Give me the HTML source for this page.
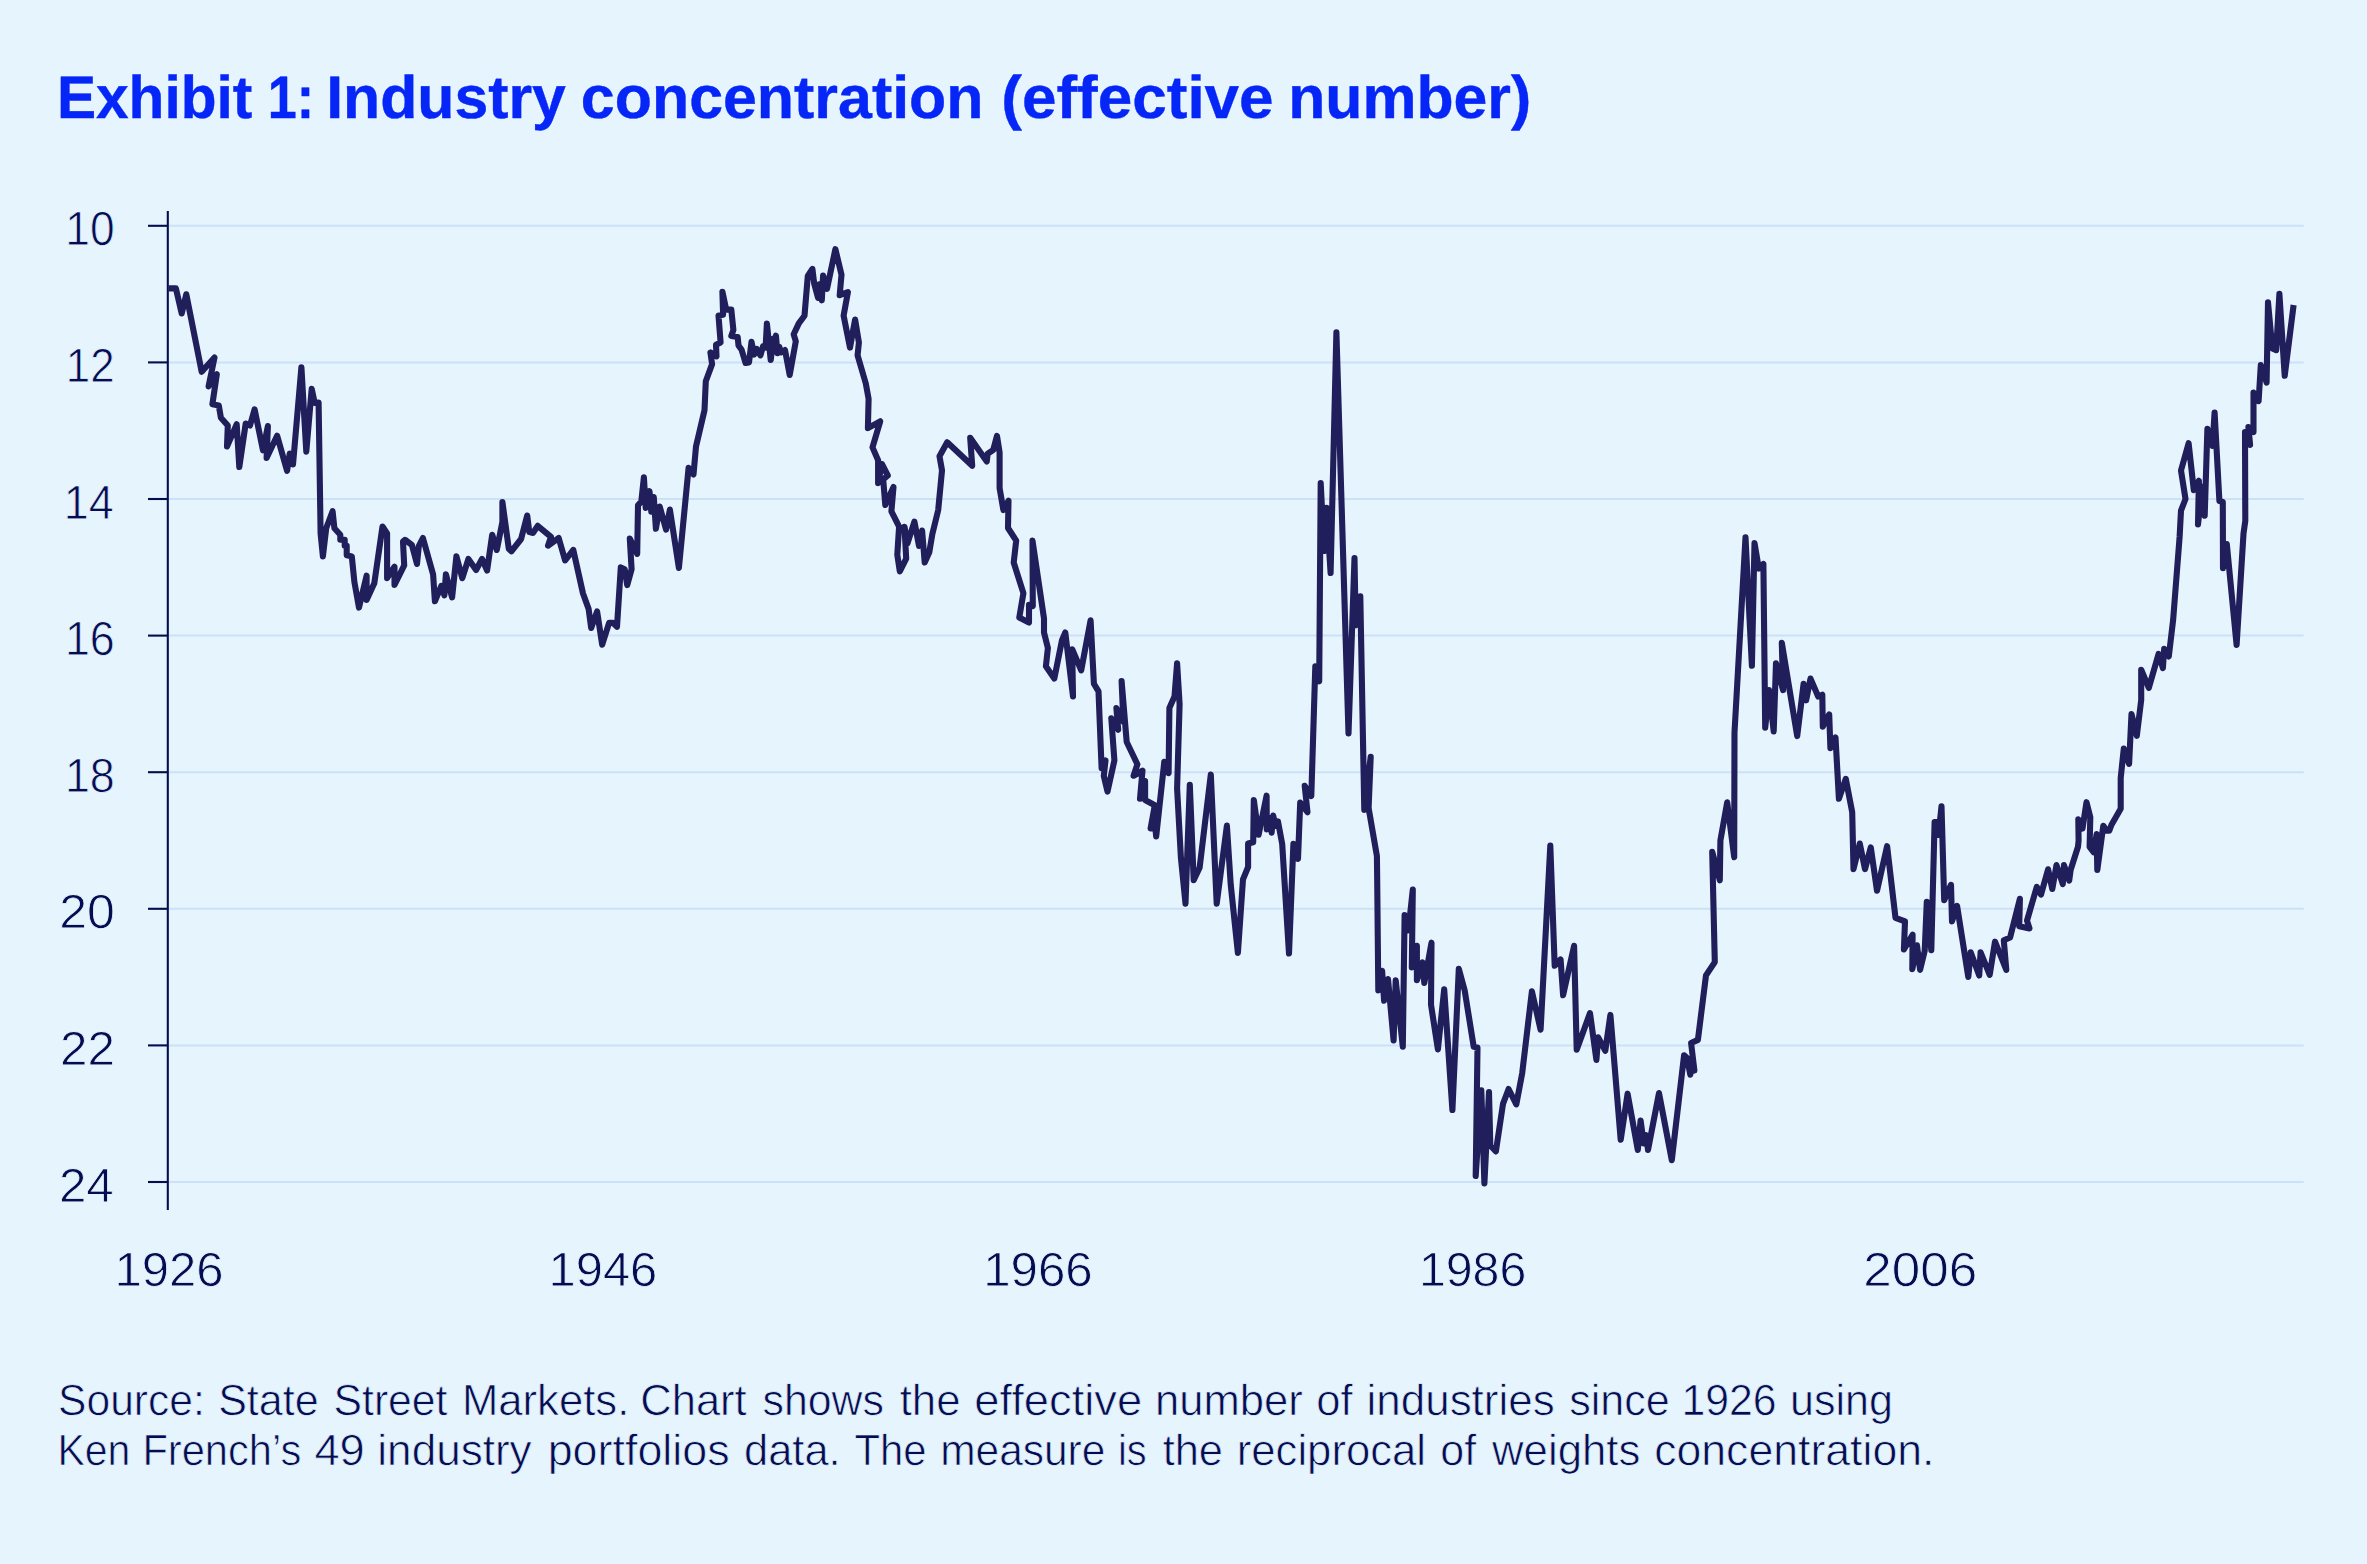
<!DOCTYPE html>
<html><head><meta charset="utf-8"><title>Exhibit 1: Industry concentration (effective number)</title>
<style>
html,body{margin:0;padding:0;background:#e6f4fd;}
body{width:2367px;height:1564px;overflow:hidden;}
svg{display:block;}
text{font-family:"Liberation Sans",sans-serif;text-rendering:geometricPrecision;}
.t{font-weight:bold;font-size:60.0px;fill:#0526f7;stroke:#0526f7;stroke-width:0.4px;stroke-linejoin:round;}
.a{font-size:48.0px;fill:#040c52;stroke:#e6f4fd;stroke-width:0.8px;}
.s{font-size:43.6px;fill:#040c52;stroke:#e6f4fd;stroke-width:0.7px;}
</style></head><body>
<svg width="2367" height="1564" viewBox="0 0 2367 1564">
<rect width="2367" height="1564" fill="#e6f4fd"/>
<g id="title">
<text class="t" transform="translate(56.89,117.70) scale(0.9774,1)">Exhibit</text>
<text class="t" transform="translate(267.79,117.70) scale(0.8684,1)">1:</text>
<text class="t" transform="translate(326.25,117.70) scale(1.0123,1)">Industry</text>
<text class="t" transform="translate(580.87,117.70) scale(1.0149,1)">concentration</text>
<text class="t" transform="translate(1001.23,117.70) scale(1.0340,1)">(effective</text>
<text class="t" transform="translate(1288.16,117.70) scale(1.0127,1)">number)</text>
</g>
<g id="grid" stroke="#cbe1f8" stroke-width="2">
<line x1="168" x2="2303.7" y1="225.8" y2="225.8"/>
<line x1="168" x2="2303.7" y1="362.4" y2="362.4"/>
<line x1="168" x2="2303.7" y1="499.0" y2="499.0"/>
<line x1="168" x2="2303.7" y1="635.6" y2="635.6"/>
<line x1="168" x2="2303.7" y1="772.2" y2="772.2"/>
<line x1="168" x2="2303.7" y1="908.8" y2="908.8"/>
<line x1="168" x2="2303.7" y1="1045.4" y2="1045.4"/>
<line x1="168" x2="2303.7" y1="1182.0" y2="1182.0"/>
</g>
<g id="axis" stroke="#050d4e" stroke-width="2.1">
<line x1="167.8" x2="167.8" y1="211" y2="1210"/>
<line x1="148" x2="168" y1="225.8" y2="225.8"/>
<line x1="148" x2="168" y1="362.4" y2="362.4"/>
<line x1="148" x2="168" y1="499.0" y2="499.0"/>
<line x1="148" x2="168" y1="635.6" y2="635.6"/>
<line x1="148" x2="168" y1="772.2" y2="772.2"/>
<line x1="148" x2="168" y1="908.8" y2="908.8"/>
<line x1="148" x2="168" y1="1045.4" y2="1045.4"/>
<line x1="148" x2="168" y1="1182.0" y2="1182.0"/>
</g>
<g id="ylabels">
<text class="a" transform="translate(65.33,245.40) scale(0.9241,1)">10</text>
<text class="a" transform="translate(65.86,382.00) scale(0.9138,1)">12</text>
<text class="a" transform="translate(63.79,518.60) scale(0.9357,1)">14</text>
<text class="a" transform="translate(64.90,655.20) scale(0.9323,1)">16</text>
<text class="a" transform="translate(64.90,791.80) scale(0.9323,1)">18</text>
<text class="a" transform="translate(59.22,928.40) scale(1.0424,1)">20</text>
<text class="a" transform="translate(59.94,1065.00) scale(1.0283,1)">22</text>
<text class="a" transform="translate(58.94,1201.60) scale(1.0277,1)">24</text>
</g>
<g id="xlabels">
<text class="a" transform="translate(114.53,1286.40) scale(1.0217,1)">1926</text>
<text class="a" transform="translate(548.55,1286.40) scale(1.0178,1)">1946</text>
<text class="a" transform="translate(983.22,1286.40) scale(1.0256,1)">1966</text>
<text class="a" transform="translate(1418.88,1286.40) scale(1.0060,1)">1986</text>
<text class="a" transform="translate(1863.37,1286.40) scale(1.0651,1)">2006</text>
</g>
<g id="source">
<text class="s" transform="translate(58.07,1415.15) scale(0.9766,1)">Source:</text>
<text class="s" transform="translate(218.16,1415.15) scale(0.9875,1)">State</text>
<text class="s" transform="translate(333.57,1415.15) scale(0.9792,1)">Street</text>
<text class="s" transform="translate(461.95,1415.15) scale(1.0011,1)">Markets.</text>
<text class="s" transform="translate(640.36,1415.15) scale(0.9972,1)">Chart</text>
<text class="s" transform="translate(762.57,1415.15) scale(0.9822,1)">shows</text>
<text class="s" transform="translate(899.65,1415.15) scale(1.0041,1)">the</text>
<text class="s" transform="translate(974.31,1415.15) scale(1.0388,1)">effective</text>
<text class="s" transform="translate(1155.05,1415.15) scale(1.0000,1)">number</text>
<text class="s" transform="translate(1316.35,1415.15) scale(0.9988,1)">of</text>
<text class="s" transform="translate(1366.53,1415.15) scale(1.0083,1)">industries</text>
<text class="s" transform="translate(1569.16,1415.15) scale(0.9887,1)">since</text>
<text class="s" transform="translate(1681.41,1415.15) scale(0.9813,1)">1926</text>
<text class="s" transform="translate(1790.08,1415.15) scale(0.9873,1)">using</text>
<text class="s" transform="translate(57.43,1465.35) scale(0.9402,1)">Ken</text>
<text class="s" transform="translate(142.38,1465.35) scale(0.9553,1)">French’s</text>
<text class="s" transform="translate(314.41,1465.35) scale(1.0380,1)">49</text>
<text class="s" transform="translate(377.33,1465.35) scale(1.0110,1)">industry</text>
<text class="s" transform="translate(547.69,1465.35) scale(1.0282,1)">portfolios</text>
<text class="s" transform="translate(743.95,1465.35) scale(0.9974,1)">data.</text>
<text class="s" transform="translate(854.55,1465.35) scale(0.9597,1)">The</text>
<text class="s" transform="translate(940.20,1465.35) scale(0.9732,1)">measure</text>
<text class="s" transform="translate(1118.03,1465.35) scale(0.9099,1)">is</text>
<text class="s" transform="translate(1162.65,1465.35) scale(0.9957,1)">the</text>
<text class="s" transform="translate(1236.75,1465.35) scale(1.0017,1)">reciprocal</text>
<text class="s" transform="translate(1440.27,1465.35) scale(0.9850,1)">of</text>
<text class="s" transform="translate(1492.05,1465.35) scale(1.0026,1)">weights</text>
<text class="s" transform="translate(1654.13,1465.35) scale(1.0236,1)">concentration.</text>
</g>
<polyline id="ln" fill="none" stroke="#201f5b" stroke-width="6.1" stroke-linejoin="round" stroke-linecap="butt" points="168.4,288.4 175.9,288.4 181.7,313.5 186.3,294.3 201.7,371.8 214.5,357.5 208.6,386.4 216.8,374.3 212.4,404.3 218.8,405.5 220.9,417.8 227.8,425.5 227.0,446.5 236.7,424.2 239.3,467.0 245.7,423.5 250.0,425.5 254.6,409.4 263.0,450.3 267.9,426.0 266.6,458.0 277.1,435.7 287.1,470.8 289.7,453.6 293.0,464.4 301.4,367.2 306.3,451.6 311.7,388.9 314.7,403.0 318.6,402.5 320.6,533.4 322.9,556.4 326.2,528.3 332.6,511.2 334.4,528.3 340.3,534.7 340.3,539.8 344.7,539.8 344.7,545.7 346.7,545.7 346.7,555.2 351.8,556.4 354.4,582.0 359.0,607.6 366.6,575.6 366.6,600.0 374.3,583.3 382.5,526.5 387.1,533.4 387.1,578.2 394.5,566.7 394.5,585.0 404.2,565.4 403.0,541.6 405.0,539.8 411.9,545.0 417.0,564.0 418.8,546.2 422.9,538.0 433.1,574.3 434.9,601.2 441.3,585.9 444.4,595.3 445.9,574.3 452.1,597.4 456.4,556.4 462.3,578.2 468.4,559.0 476.1,570.0 482.0,559.0 487.1,570.5 492.2,534.7 496.8,550.0 502.4,521.9 502.4,502.0 508.8,548.8 511.4,551.3 521.1,539.0 527.2,515.5 529.3,532.1 533.1,532.9 537.7,525.8 551.0,536.8 548.0,545.7 558.7,538.0 565.1,560.3 573.3,550.0 583.0,593.5 588.6,608.9 591.2,628.0 597.1,611.4 602.2,644.7 609.1,622.9 612.9,622.9 617.0,626.8 620.8,567.4 624.7,569.2 627.2,585.1 631.6,569.2 629.8,538.5 637.2,553.9 638.0,505.3 641.3,501.5 643.9,477.2 645.7,507.9 649.5,491.2 651.3,511.7 653.8,497.1 655.9,528.8 659.7,506.6 666.1,529.6 669.9,509.6 678.9,568.0 688.6,467.7 693.5,474.6 696.0,446.5 704.5,410.2 705.8,381.3 712.1,364.1 710.4,352.4 716.5,356.4 716.0,344.7 720.6,342.4 718.5,315.5 723.1,314.8 722.4,291.7 726.2,309.6 731.3,309.6 733.4,330.1 731.3,336.0 737.7,337.0 738.5,345.4 741.6,349.8 745.6,363.0 749.0,362.5 751.5,341.8 754.1,354.6 756.6,348.9 760.5,355.3 763.0,346.4 765.6,347.6 766.9,323.5 770.7,360.0 773.4,338.5 774.6,341.0 775.9,335.6 777.5,353.3 779.4,347.0 781.0,352.5 785.0,350.0 789.7,375.0 795.8,341.3 793.7,334.3 798.8,323.4 804.5,315.7 807.8,276.0 812.4,268.9 814.2,283.7 818.0,297.8 819.3,284.2 821.8,300.3 823.1,275.5 827.0,288.8 835.4,249.2 841.5,274.8 839.7,295.2 847.9,292.1 843.6,315.7 850.0,347.6 855.1,319.5 858.9,342.5 857.6,355.3 865.8,383.5 868.6,398.8 867.9,428.2 880.2,421.3 872.5,447.4 878.1,460.2 878.1,483.2 881.9,464.0 887.8,475.5 883.2,479.4 885.3,504.9 893.5,487.0 891.4,511.3 899.1,526.7 897.3,554.8 899.8,571.4 906.2,558.6 904.5,526.7 907.5,543.3 914.4,521.6 919.0,545.9 922.1,530.5 924.7,562.5 929.3,552.2 932.3,534.3 938.2,510.1 942.0,470.4 939.5,456.3 947.2,442.3 972.2,465.8 970.2,437.7 986.8,461.5 987.6,453.8 993.2,450.0 997.0,435.9 999.6,452.5 999.6,488.3 1003.4,510.1 1008.5,500.6 1008.0,528.0 1016.2,540.7 1013.7,562.5 1023.4,593.2 1019.3,617.5 1029.0,622.6 1029.0,604.7 1032.8,606.0 1032.5,540.6 1044.0,618.5 1044.0,632.5 1047.9,647.9 1045.9,666.3 1054.3,678.6 1062.0,640.2 1065.3,632.5 1073.0,696.5 1072.2,649.2 1081.2,670.4 1090.6,620.3 1093.9,683.7 1098.5,691.4 1101.6,768.1 1105.5,760.4 1103.8,776.0 1107.5,791.6 1114.4,760.4 1111.3,718.2 1118.2,729.7 1116.4,708.0 1123.4,722.0 1121.6,681.1 1126.7,742.0 1137.4,764.2 1133.6,775.8 1142.5,770.6 1140.0,798.8 1145.1,780.9 1145.1,800.0 1154.8,805.2 1150.6,828.5 1153.6,813.0 1156.2,836.5 1164.3,761.7 1168.6,773.2 1169.4,708.0 1174.5,696.5 1177.1,663.2 1179.6,704.1 1177.1,788.5 1180.9,857.6 1185.5,903.6 1189.8,784.7 1193.7,880.1 1199.6,867.8 1210.8,774.5 1216.7,903.6 1226.9,825.6 1230.7,884.4 1237.9,952.9 1243.0,879.3 1248.1,867.0 1248.1,843.5 1253.2,842.2 1253.8,800.0 1258.6,834.8 1266.6,795.7 1266.8,829.4 1269.6,817.9 1271.6,832.7 1273.2,815.6 1275.5,826.0 1278.0,821.5 1282.2,844.0 1289.0,953.5 1293.4,843.9 1298.0,858.9 1300.2,802.6 1307.5,812.2 1304.7,785.8 1311.3,796.0 1315.3,666.3 1319.2,681.3 1320.7,483.0 1324.1,551.0 1326.5,507.7 1330.6,573.0 1336.4,332.3 1348.5,733.5 1354.5,558.0 1355.7,625.3 1358.0,623.0 1360.3,596.3 1364.3,810.0 1370.7,756.8 1368.6,808.0 1376.9,856.0 1377.2,880.0 1378.3,990.5 1382.1,970.8 1384.1,1000.8 1388.0,979.0 1393.6,1040.4 1395.7,980.3 1402.8,1046.8 1404.6,915.1 1408.4,930.4 1412.8,889.5 1411.8,967.5 1416.9,945.8 1416.9,980.3 1422.5,962.4 1424.3,982.9 1431.5,942.7 1431.0,1004.6 1437.9,1049.4 1444.2,989.3 1452.4,1110.0 1458.8,968.8 1464.7,990.5 1473.7,1046.8 1477.5,1047.6 1475.7,1176.0 1481.3,1090.3 1484.4,1183.4 1489.0,1092.0 1490.3,1145.5 1495.9,1151.4 1503.0,1103.9 1508.6,1089.0 1516.3,1104.4 1522.2,1073.2 1531.9,991.4 1540.6,1029.7 1550.3,845.6 1554.7,965.8 1560.6,959.4 1563.1,995.2 1574.1,945.8 1576.7,1049.7 1590.0,1013.1 1596.4,1059.9 1598.2,1037.4 1605.3,1050.7 1610.4,1014.9 1620.7,1139.7 1627.6,1093.7 1637.8,1149.9 1640.6,1120.5 1643.7,1143.5 1646.2,1135.1 1648.0,1149.9 1659.0,1093.1 1671.8,1160.2 1684.1,1055.2 1687.0,1058.0 1690.3,1074.7 1692.5,1056.0 1694.4,1070.6 1691.1,1043.0 1697.9,1039.9 1706.0,975.4 1714.8,962.1 1712.2,851.8 1719.8,880.3 1720.4,840.5 1727.2,802.3 1734.2,857.1 1734.5,732.3 1745.5,537.4 1751.9,665.8 1754.5,543.0 1758.8,568.6 1763.4,564.0 1765.2,727.7 1769.1,690.1 1773.7,731.5 1776.0,663.2 1783.1,690.1 1781.8,642.8 1797.2,736.1 1803.6,683.7 1806.1,700.3 1810.5,678.6 1818.2,696.5 1822.3,694.7 1822.8,726.6 1829.2,714.4 1830.4,748.1 1835.5,737.4 1838.9,798.8 1845.8,778.8 1852.2,812.1 1853.5,869.1 1859.8,843.5 1865.0,869.1 1870.8,847.4 1877.0,890.8 1887.1,846.1 1895.5,917.8 1905.0,921.3 1903.9,949.5 1912.6,934.7 1912.3,969.2 1917.0,945.3 1920.1,969.9 1924.7,950.9 1926.8,901.7 1931.3,950.2 1934.6,822.0 1937.0,822.0 1938.5,835.0 1941.5,806.4 1944.2,900.2 1951.0,884.8 1952.0,921.4 1957.1,905.9 1968.3,976.9 1970.7,952.3 1979.2,975.5 1980.6,952.3 1989.7,974.8 1995.0,941.7 2006.3,969.9 2003.8,940.3 2010.1,937.5 2019.9,898.8 2019.2,926.3 2029.5,928.4 2027.0,920.6 2036.8,886.9 2041.0,894.6 2048.1,869.3 2052.3,889.0 2056.5,865.1 2062.8,884.1 2064.0,865.1 2069.2,880.6 2070.6,870.0 2078.0,846.8 2078.6,840.5 2078.3,819.4 2082.5,828.5 2086.5,802.2 2090.3,817.3 2089.6,846.8 2093.8,852.4 2096.6,834.1 2097.3,870.0 2103.3,825.7 2106.4,830.6 2109.3,830.6 2111.4,825.0 2120.7,808.7 2120.7,778.0 2123.8,748.5 2129.1,763.9 2131.5,714.0 2136.8,735.8 2141.2,700.0 2141.2,669.8 2148.8,687.9 2158.6,653.9 2162.9,668.0 2164.2,648.8 2168.8,656.5 2173.1,620.2 2179.6,537.0 2181.0,510.6 2185.5,499.0 2181.0,470.5 2188.6,443.2 2193.8,490.1 2198.9,480.8 2198.0,524.5 2202.3,486.7 2204.7,515.7 2207.4,428.7 2212.5,445.8 2214.6,412.5 2219.4,501.0 2222.8,502.0 2223.0,568.2 2226.8,544.0 2236.6,645.0 2243.5,533.7 2245.3,520.9 2245.0,432.1 2250.1,444.9 2248.4,427.0 2253.5,432.1 2253.5,392.5 2258.6,401.1 2260.8,365.1 2266.6,382.6 2268.0,302.4 2272.3,348.5 2276.2,350.2 2279.4,293.9 2284.7,375.8 2293.6,305.0"/>
</svg>
</body></html>
